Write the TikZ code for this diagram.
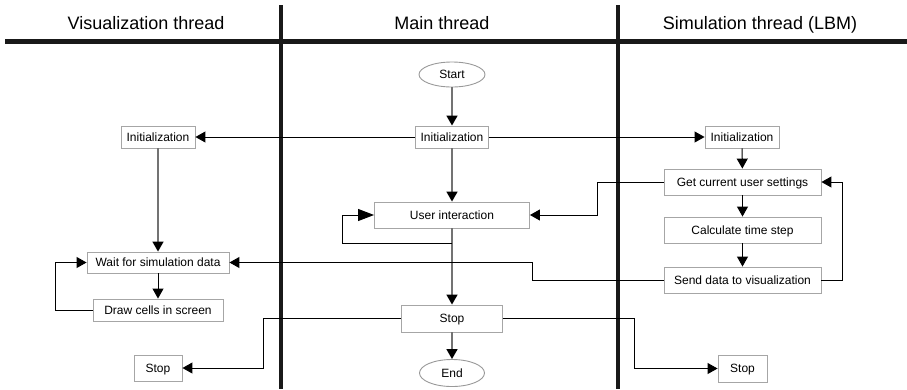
\documentclass[tikz,border=0pt]{standalone}
\usepackage{fontspec}
\setmainfont{Liberation Sans}
\usetikzlibrary{arrows.meta,shapes.geometric}
\begin{document}
\begin{tikzpicture}[x=1pt,y=-1pt,
  box/.style={draw=black!35, line width=0.9pt, fill=white, inner sep=0pt,
    font=\fontsize{12}{14}\selectfont, text height=8.6pt, text depth=0pt},
  oval/.style={ellipse, draw=black!40, line width=0.9pt, fill=white, inner sep=0pt,
    font=\fontsize{12}{14}\selectfont, text height=8.6pt, text depth=0pt},
  head/.style={anchor=base, font=\fontsize{18}{21}\selectfont},
  lane/.style={line width=4pt, black!90},
  tip/.style={-{Triangle[length=10pt,width=11pt,color=black]}},
  conn/.style={tip, line width=1pt, black},
  gconn/.style={tip, line width=1.6pt, black!55},
]
\useasboundingbox (0,0) rectangle (907,389);
% lanes
\draw[line width=5pt, black!90] (5,41.5) -- (907,41.5);
\draw[lane] (281,5) -- (281,389);
\draw[lane] (618,5) -- (618,389);
\node[head] (hv) at (146,29) {Visualization thread};
\node[head] (hm) at (442,29) {Main thread};
\node[head] (hs) at (760,29) {Simulation thread (LBM)};

% main column
\node[oval, minimum width=66pt, minimum height=25pt] (start) at (452,74.5) {Start};
\node[box, minimum width=73pt, minimum height=22pt] (minit) at (452,137) {Initialization};
\node[box, minimum width=155pt, minimum height=26pt] (ui) at (452,215) {User interaction};
\node[box, minimum width=101pt, minimum height=27pt] (mstop) at (452,318.5) {Stop};
\node[oval, minimum width=65pt, minimum height=27pt] (mend) at (452,373) {End};

% left column
\node[box, minimum width=74pt, minimum height=22pt] (linit) at (158,137) {Initialization};
\node[box, minimum width=142pt, minimum height=21pt] (wait) at (158,262.5) {Wait for simulation data};
\node[box, minimum width=130pt, minimum height=22pt] (drawc) at (158,310) {Draw cells in screen};
\node[box, minimum width=48pt, minimum height=26pt] (lstop) at (158,368) {Stop};

% right column
\node[box, minimum width=74pt, minimum height=22pt] (rinit) at (742,137) {Initialization};
\node[box, minimum width=157pt, minimum height=26pt] (get) at (742.5,182) {Get current user settings};
\node[box, minimum width=157pt, minimum height=26pt] (calc) at (742.5,230) {Calculate time step};
\node[box, minimum width=157pt, minimum height=26pt] (send) at (742.5,280) {Send data to visualization};
\node[box, minimum width=49pt, minimum height=27pt] (rstop) at (742.5,368.5) {Stop};

% main connectors
\draw[gconn] (start) -- (minit);
\draw[gconn] (minit) -- (ui);
\draw[gconn] (ui) -- (mstop);
\draw[gconn] (mstop) -- (mend);
\coordinate (uil) at (452,243);
\draw[line width=1pt, -{Triangle[length=16pt,width=12pt]}] (uil) -- (342,243) |- (ui.west);
\draw[conn] (minit.west) -- (linit.east);
\draw[conn] (minit.east) -- (rinit.west);
\draw[conn] (get.west) -- (597,182) |- (ui.east);
\draw[conn] (send.west) -- (532,280) |- (wait.east);
\draw[conn] (mstop.west) -- (263,318.5) |- (lstop.east);
\draw[conn] (mstop.east) -- (634,318.5) |- (rstop.west);

% left connectors
\draw[gconn] (linit) -- (wait);
\draw[conn] (wait) -- (drawc);
\draw[conn] (drawc.west) -- (55,310) |- (wait.west);

% right connectors
\draw[conn] (rinit) -- (get);
\draw[conn] (get) -- (calc);
\draw[conn] (calc) -- (send);
\draw[conn] (send.east) -- (842,280) |- (get.east);
\end{tikzpicture}
\end{document}
